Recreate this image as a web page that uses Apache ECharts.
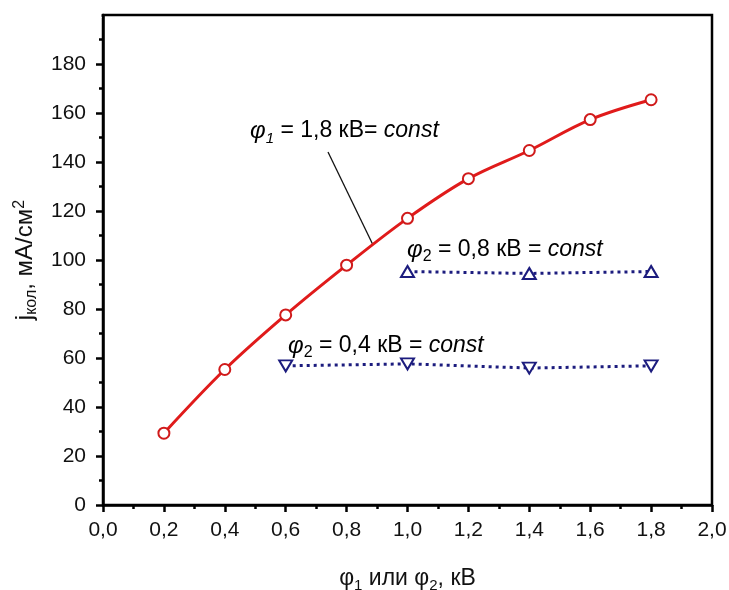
<!DOCTYPE html>
<html><head><meta charset="utf-8">
<script src="https://cdn.jsdelivr.net/npm/echarts@6/dist/echarts.min.js"></script>
<style>html,body{margin:0;padding:0;background:#fff}#c{width:729px;height:590px}</style>
</head><body><div id="c"></div>
<script>
const phi1 = [0.2,0.4,0.6,0.8,1.0,1.2,1.4,1.6,1.8];
const jPhi1 = [29.3,55.3,77.6,97.9,117,133.2,144.7,157.3,165.4];
const phi08 = [1.0,1.4,1.8];
const j08 = [95.3,94.5,95.3];
const phi04 = [0.6,1.0,1.4,1.8];
const j04 = [56.8,57.6,55.9,56.8];

const FONT = '"Liberation Sans", Arial, sans-serif';
const pairs = (xs, ys) => xs.map((x,i)=>[x, ys[i]]);
const chart = echarts.init(document.getElementById('c'));
const axisCommon = {
  axisLine:{show:true,lineStyle:{color:'#000',width:2.5}},
  axisTick:{show:true,inside:false,length:7,lineStyle:{color:'#000',width:2.5}},
  minorTick:{show:true,splitNumber:2,length:4,lineStyle:{color:'#000',width:2.5}},
  splitLine:{show:false},
};
chart.setOption({
  animation:false,
  backgroundColor:'#fff',
  grid:{left:103,right:17,top:15,bottom:85,containLabel:false,outerBoundsMode:'none',
    show:true,borderColor:'#000',borderWidth:2.5,backgroundColor:'transparent'},
  xAxis:Object.assign({
    type:'value',min:0,max:2,interval:0.2,
    axisLabel:{color:'#111',fontSize:21,fontFamily:FONT,margin:15,
      formatter:v=>v.toFixed(1).replace('.',',')},
    name:'{a|φ}{s|1}{a| или φ}{s|2}{a|, кВ}',
    nameLocation:'middle',nameGap:62,
    nameTextStyle:{rich:{
      a:{fontSize:23,fontFamily:FONT,color:'#111'},
      s:{fontSize:15,fontFamily:FONT,color:'#111',verticalAlign:'bottom',padding:[0,0,-3,0]}
    }}
  },axisCommon),
  yAxis:Object.assign({
    type:'value',min:0,max:200,interval:20,
    axisLabel:{color:'#111',fontSize:21,fontFamily:FONT,margin:17,
      formatter:v=>v===200?'':String(v)},
    name:'{a|j}{s|кол}{a|, мА/см}{p|2}',
    nameLocation:'middle',nameGap:62,nameRotate:90,
    nameTextStyle:{rich:{
      a:{fontSize:24,fontFamily:FONT,color:'#111'},
      s:{fontSize:16,fontFamily:FONT,color:'#111',verticalAlign:'bottom',padding:[0,0,-3,0]},
      p:{fontSize:16,fontFamily:FONT,color:'#111',verticalAlign:'top',padding:[-1,0,0,0]}
    }}
  },axisCommon),
  series:[
    {type:'line',data:pairs(phi1,jPhi1),smooth:0.35,
      lineStyle:{color:'#e01b1b',width:3},
      symbol:'circle',symbolSize:11,
      itemStyle:{color:'#fff',borderColor:'#d01a1a',borderWidth:2},z:3},
    {type:'line',data:pairs(phi08,j08),
      lineStyle:{color:'#1c1c7e',width:3,type:[3,4]},
      symbol:'triangle',symbolSize:[13,11],
      itemStyle:{color:'#fff',borderColor:'#1c1c7e',borderWidth:2},z:3},
    {type:'line',data:pairs(phi04,j04),
      lineStyle:{color:'#1c1c7e',width:3,type:[3,4]},
      symbol:'triangle',symbolRotate:180,symbolSize:[13,11],
      itemStyle:{color:'#fff',borderColor:'#1c1c7e',borderWidth:2},z:3}
  ]
});

const richAnn = {
  f:{fontSize:24,fontFamily:FONT,fontStyle:'italic',color:'#111'},
  s:{fontSize:15,fontFamily:FONT,fontStyle:'italic',color:'#111',verticalAlign:'bottom',padding:[0,0,-3,0]},
  n:{fontSize:23,fontFamily:FONT,color:'#111'},
  c:{fontSize:23,fontFamily:FONT,fontStyle:'italic',color:'#111'}
};
const sn = {fontSize:16,fontFamily:FONT,color:'#111',verticalAlign:'bottom',padding:[0,0,-3,0]};
const rich2 = Object.assign({}, richAnn, {s:sn});
chart.setOption({graphic:[
  {type:'rect',shape:{x:88,y:11,width:13.5,height:7},style:{fill:'#fff'},z:100},
  {type:'text',left:250,top:119,style:{text:'{f|φ}{s|1}{n| = 1,8 кВ= }{c|const}',rich:richAnn}},
  {type:'text',left:407,top:238,style:{text:'{f|φ}{s|2}{n| = 0,8 кВ = }{c|const}',rich:rich2}},
  {type:'text',left:288,top:334,style:{text:'{f|φ}{s|2}{n| = 0,4 кВ = }{c|const}',rich:rich2}},
  {type:'line',shape:{x1:328,y1:152,x2:373,y2:245},style:{stroke:'#111',lineWidth:1.3}}
]});
</script></body></html>
